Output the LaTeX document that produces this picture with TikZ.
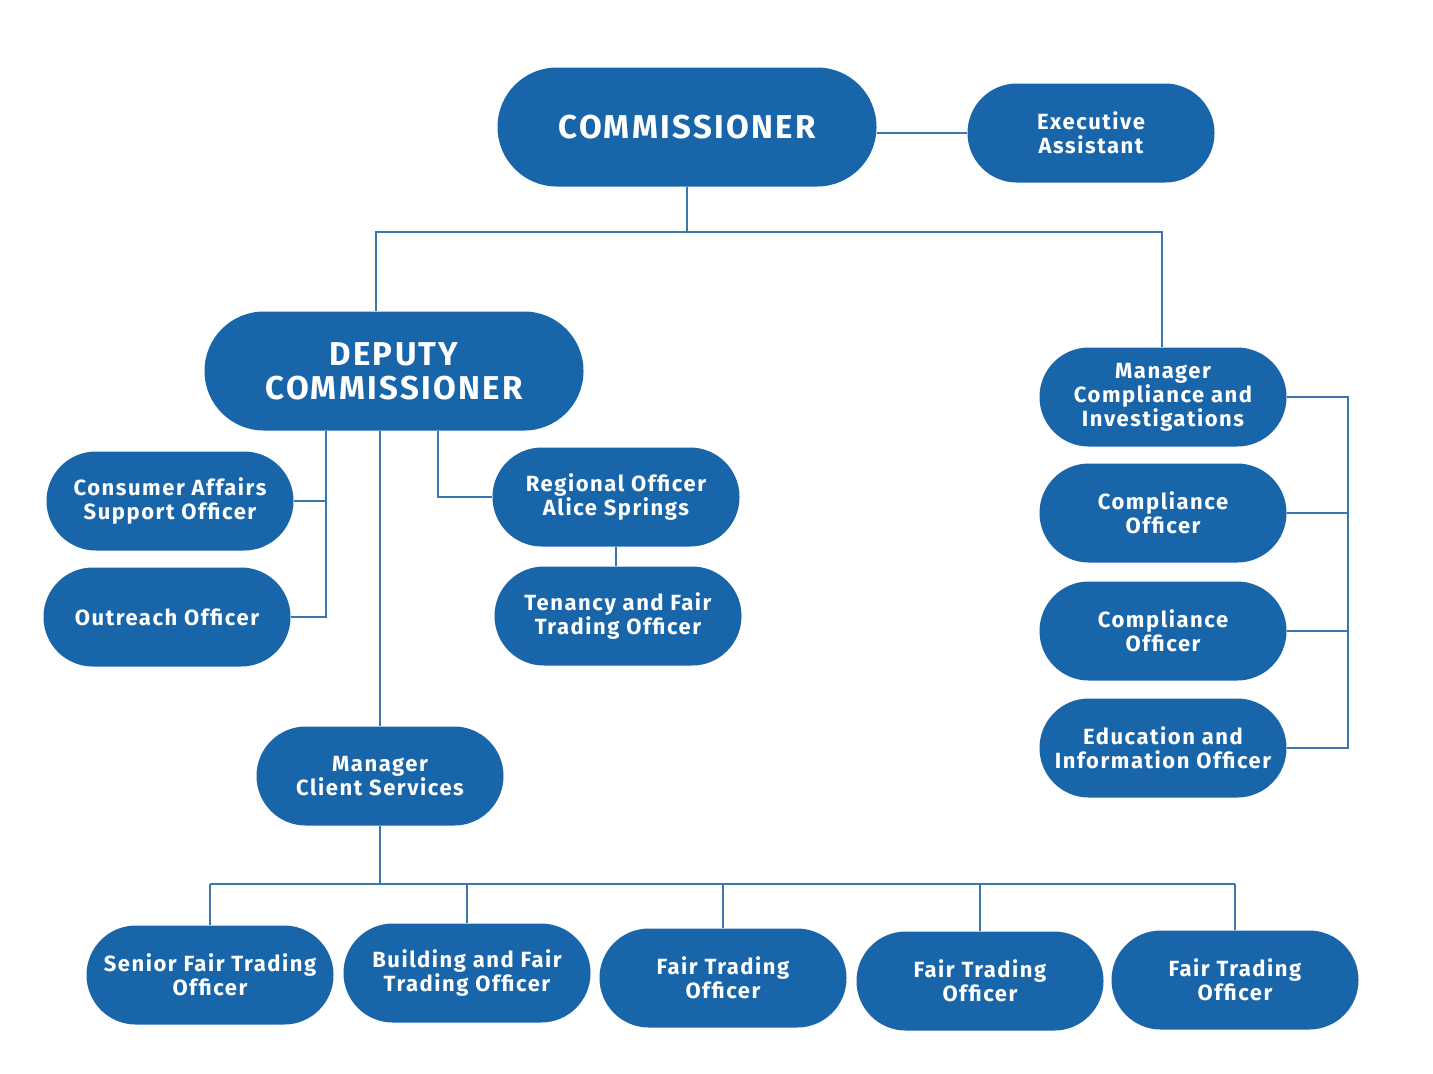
\documentclass[tikz,border=0pt]{standalone}
\usepackage{fontspec}
\setmainfont{Fira Sans}[LetterSpace=7]
\definecolor{ocblue}{HTML}{1865A9}
\definecolor{lineblue}{HTML}{3A77AE}
\begin{document}
\begin{tikzpicture}[x=0.5pt,y=-0.5pt,
  box/.style={fill=ocblue, draw=none, text=white, align=center, inner sep=0pt,
    font=\bfseries\fontsize{11}{12}\selectfont,
    minimum width=123.5pt, minimum height=49.5pt, rounded corners=24.7pt},
  bigbox/.style={box, minimum width=189.5pt, minimum height=59.5pt, rounded corners=29.7pt,
    font=\bfseries\fontsize{16.5}{17}\selectfont},
  conn/.style={draw=lineblue, line width=1pt}]
\useasboundingbox[fill=white] (0,0) rectangle (1433,1073);
% nodes
\node[bigbox] (comm) at (687,127) {COMMISSIONER};
\node[box] (ea) at (1091,133) {Executive\\Assistant};
\node[bigbox] (dep) at (394,371) {DEPUTY\\COMMISSIONER};
\node[box] (cas) at (170,501) {Consumer Affairs\\Support Officer};
\node[box] (out) at (167,617) {Outreach Officer};
\node[box] (reg) at (616,497) {Regional Officer\\Alice Springs};
\node[box] (ten) at (618,616) {Tenancy and Fair\\Trading Officer};
\node[box] (mcs) at (380,776) {Manager\\Client Services};
\node[box] (mci) at (1163,397) {Manager\\Compliance and\\Investigations};
\node[box] (co1) at (1163,513) {Compliance\\Officer};
\node[box] (co2) at (1163,631) {Compliance\\Officer};
\node[box] (edu) at (1163,748) {Education and\\Information Officer};
\node[box] (b1) at (210,975) {Senior Fair Trading\\Officer};
\node[box] (b2) at (467,973) {Building and Fair\\Trading Officer};
\node[box] (b3) at (723,978) {Fair Trading\\Officer};
\node[box] (b4) at (980,981) {Fair Trading\\Officer};
\node[box] (b5) at (1235,980) {Fair Trading\\Officer};
% helper coordinates
\coordinate (busL) at (376,232);
\coordinate (busR) at (1162,232);
\coordinate (dl) at (326,0);
\coordinate (dr) at (438,0);
\coordinate (bb) at (0,884);
\coordinate (rb) at (1348,0);
% connectors
\draw[conn] (comm.east |- ea.west) -- (ea.west);
\draw[conn] (comm.south) -- (comm.south |- busL);
\draw[conn] (busL |- dep.north) -- (busL) -- (busR) -- (busR |- mci.north);
\draw[conn] (dl |- dep.south) -- (dl |- out.east) -- (out.east);
\draw[conn] (dl |- cas.east) -- (cas.east);
\draw[conn] (dr |- dep.south) -- (dr |- reg.west) -- (reg.west);
\draw[conn] (reg.south) -- (reg.south |- ten.north);
\draw[conn] (mcs.north |- dep.south) -- (mcs.north);
\draw[conn] (mcs.south) -- (mcs.south |- bb);
\draw[conn] (b1.north |- bb) -- (b5.north |- bb);
\foreach \n in {b1,b2,b3,b4,b5} {\draw[conn] (\n.north |- bb) -- (\n.north);}
\draw[conn] (mci.east) -- (rb |- mci.east) -- (rb |- edu.east) -- (edu.east);
\draw[conn] (co1.east) -- (rb |- co1.east);
\draw[conn] (co2.east) -- (rb |- co2.east);
\end{tikzpicture}
\end{document}
